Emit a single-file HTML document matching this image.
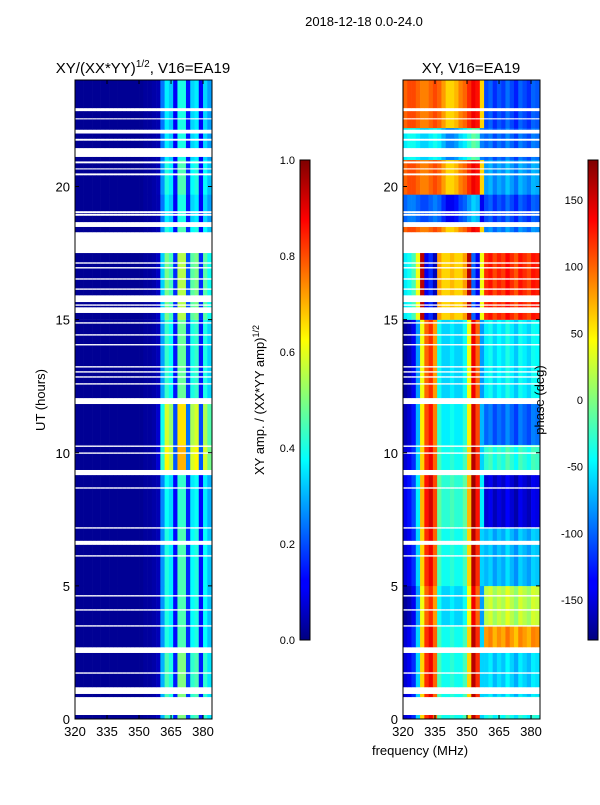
<!DOCTYPE html>
<html><head><meta charset="utf-8"><style>
body{margin:0;background:#fff;width:600px;height:800px;overflow:hidden;font-family:"Liberation Sans",sans-serif}
svg text{font-family:"Liberation Sans",sans-serif;fill:#000}
</style></head><body>
<svg id="fig" width="600" height="800" viewBox="0 0 600 800">
<rect x="0" y="0" width="600" height="800" fill="#fff"/>
<text x="364" y="26" font-size="13" text-anchor="middle">2018-12-18 0.0-24.0</text>
<text x="143" y="73" font-size="15" text-anchor="middle">XY/(XX*YY)<tspan font-size="10" dy="-6">1/2</tspan><tspan dy="6">, V16=EA19</tspan></text>
<text x="471" y="73" font-size="15" text-anchor="middle">XY, V16=EA19</text>
<g id="ampPanel"></g>
<g id="phPanel"></g>
<g id="axes"></g>
<defs>
<linearGradient id="jet" x1="0" y1="1" x2="0" y2="0">
<stop offset="0" stop-color="#00007f"/><stop offset="0.11" stop-color="#0000ff"/><stop offset="0.125" stop-color="#0000ff"/>
<stop offset="0.34" stop-color="#00dbff"/><stop offset="0.375" stop-color="#00ffff"/><stop offset="0.5" stop-color="#7fff7f"/>
<stop offset="0.625" stop-color="#ffff00"/><stop offset="0.66" stop-color="#ffdb00"/><stop offset="0.875" stop-color="#ff0000"/><stop offset="1" stop-color="#7f0000"/>
</linearGradient>
</defs>
<rect x="300" y="160" width="10" height="480" fill="url(#jet)" stroke="#000" stroke-width="1"/>
<rect x="588" y="160" width="10" height="480" fill="url(#jet)" stroke="#000" stroke-width="1"/>
<text transform="translate(264,400) rotate(-90)" font-size="13" text-anchor="middle">XY amp. / (XX*YY amp)<tspan font-size="9" dy="-5">1/2</tspan></text>
<text transform="translate(544,400) rotate(-90)" font-size="13" text-anchor="middle">phase (deg)</text>
<text transform="translate(45,400) rotate(-90)" font-size="13" text-anchor="middle">UT (hours)</text>
<text x="420" y="755" font-size="13" text-anchor="middle">frequency (MHz)</text>
</svg>
<script>
// ---- data ----
const freqEdges = [320,322,324,326,328,330,332,334,336,338,340,342,344,346,348,350,352,354,356,358,360,362,364,366,368,370,372,374,376,378,380,382,384];
const ampProfile = [0.02,0.02,0.02,0.02,0.02,0.02,0.02,0.02,0.02,0.02,0.02,0.02,0.02,0.02,0.02,0.02,0.03,0.03,0.04,0.06,0.3,0.45,0.4,0.15,0.5,0.5,0.18,0.42,0.45,0.15,0.42,0.35];
const phaseLowA = [-150,-140,-120,-60,60,120,140,100,-20,-40,-40,-30,-40,-40,-20,60,160,120,-60];
const phaseLowB = [100,110,110,100,90,90,100,110,100,80,60,60,70,90,100,120,140,130,60];
const phaseHiProf = [0,10,-10,5,-5,15,0,-15,10,0,-10,10,5];
const segStart = [0,0.85,2.5,3.5,5.0,7.2,9.3,10.3,12.0,15.0,17.5,18.5,19.7,21.0,22.2];
const segEnd   = [0.85,2.5,3.5,5.0,7.2,9.3,10.3,12.0,15.0,17.5,18.5,19.7,21.0,22.2,24.0];
const segAmp   = [1.0,1.0,0.9,0.9,0.9,0.85,1.4,1.3,0.95,1.1,0.9,0.8,0.9,0.8,0.8];
const segLowMode = [0,0,0,0,0,0,0,0,0,0,1,1,1,1,1];
const segLowShift = [0,0,0,-20,0,10,0,-10,-20,100,0,-200,0,-150,0];
const segHiPhase = [-40,-60,80,20,-70,-150,-30,-100,-50,120,-90,-110,-80,-100,-110];
const gaps = [[0.15,0.83],[0.94,1.2],[1.7,1.76],[2.48,2.7],[3.47,3.53],[4.07,4.13],[4.6,4.66],[6.1,6.16],[6.54,6.7],[7.15,7.21],[8.65,8.71],[9.16,9.36],[9.96,10.02],[10.22,10.28],[11.83,12.06],[12.56,12.62],[12.82,12.88],[13.01,13.07],[13.2,13.26],[14.03,14.09],[14.4,14.46],[14.85,14.91],[15.25,15.47],[15.52,15.58],[15.66,15.92],[16.12,16.18],[16.5,16.56],[16.92,16.98],[17.1,17.16],[17.5,18.29],[18.48,18.67],[18.9,18.98],[19.0,19.08],[20.42,20.5],[20.64,20.69],[20.87,20.95],[21.11,21.45],[21.72,21.8],[21.99,22.14],[22.52,22.57],[22.83,22.95]];
const xTicks = [320,335,350,365,380];
const yTicks = [0,5,10,15,20];
const ampCbTicks = [0.0,0.2,0.4,0.6,0.8,1.0];
const phCbTicks = [-150,-100,-50,0,50,100,150];

// ---- scales ----
const NS='http://www.w3.org/2000/svg';
const PT=80, PB=719;
function ys(h){return PB-(h/24)*(PB-PT);}
function xsL(f){return 75+(f-320)/(384.2-320)*137;}
function xsR(f){return 403+(f-320)/(384.2-320)*137;}
function jet(v){v=Math.max(0,Math.min(1,v));const c=t=>Math.round(255*Math.max(0,Math.min(1,1.5-Math.abs(4*v-t))));return `rgb(${c(3)},${c(2)},${c(1)})`;}
function wrap(p){while(p>180)p-=360;while(p<-180)p+=360;return p;}
function mk(tag,attrs,parent){const e=document.createElementNS(NS,tag);for(const k in attrs)e.setAttribute(k,attrs[k]);parent.appendChild(e);return e;}

const intervals=[];
for(let s=0;s<segStart.length;s++){
  let pieces=[[segStart[s],segEnd[s]]];
  gaps.forEach(g=>{const np=[];pieces.forEach(p=>{if(g[1]<=p[0]||g[0]>=p[1]){np.push(p);}else{if(g[0]>p[0])np.push([p[0],g[0]]);if(g[1]<p[1])np.push([g[1],p[1]]);}});pieces=np;});
  pieces.forEach(p=>intervals.push([p[0],p[1],s]));
}
const ampG=document.getElementById('ampPanel'), phG=document.getElementById('phPanel');
const nLow=phaseLowA.length;
intervals.forEach(iv=>{
  const s=iv[2];const y0=ys(iv[1]),y1=ys(iv[0]);
  for(let c=0;c<freqEdges.length-1;c++){
    const f0=freqEdges[c],f1=freqEdges[c+1];
    let a=ampProfile[c]*(c>=nLow?segAmp[s]:1);
    const r=mk('rect',{x:xsL(f0).toFixed(2),y:y0.toFixed(2),width:(xsL(f1)-xsL(f0)+0.3).toFixed(2),height:(y1-y0+0.2).toFixed(2),fill:jet(a)},ampG);
    
    
    let p;
    if(c<nLow){p=(segLowMode[s]?phaseLowB[c]:phaseLowA[c])+segLowShift[s];}
    else{p=segHiPhase[s]+phaseHiProf[c-nLow];}
    const q=mk('rect',{x:xsR(f0).toFixed(2),y:y0.toFixed(2),width:(xsR(f1)-xsR(f0)+0.3).toFixed(2),height:(y1-y0+0.2).toFixed(2),fill:jet((wrap(p)+180)/360)},phG);
    
    
  }
});

const ax=document.getElementById('axes');
[[75,xsL],[403,xsR]].forEach(([x0,xs],pi)=>{
  const fr=mk('rect',{x:x0,y:PT,width:137,height:PB-PT,fill:'none',stroke:'#000','stroke-width':1},ax);
  
  
  xTicks.forEach(t=>{
    const x=xs(t);
    mk('line',{x1:x,x2:x,y1:PB,y2:PB-4,stroke:'#000'},ax);
    mk('line',{x1:x,x2:x,y1:PT,y2:PT+4,stroke:'#000'},ax);
    const tx=mk('text',{x:x,y:PB+17,'font-size':13,'text-anchor':'middle'},ax);
    tx.textContent=t;
    
    
  });
  yTicks.forEach(t=>{
    const y=ys(t);
    mk('line',{x1:x0,x2:x0+4,y1:y,y2:y,stroke:'#000'},ax);
    mk('line',{x1:x0+137,x2:x0+133,y1:y,y2:y,stroke:'#000'},ax);
    const tx=mk('text',{x:x0-5,y:y+5,'font-size':13,'text-anchor':'end'},ax);
    tx.textContent=t;
    
    
  });
});
ampCbTicks.forEach(t=>{
  const y=640-t*480;
  mk('line',{x1:300,x2:310,y1:y,y2:y,stroke:'#000','stroke-width':0.8},ax);
  const tx=mk('text',{x:295,y:y+4,'font-size':11,'text-anchor':'end'},ax);
  tx.textContent=t.toFixed(1);
  
  
});
phCbTicks.forEach(t=>{
  const y=400-t*(480/360);
  mk('line',{x1:588,x2:598,y1:y,y2:y,stroke:'#000','stroke-width':0.8},ax);
  const tx=mk('text',{x:583,y:y+4,'font-size':11,'text-anchor':'end'},ax);
  tx.textContent=t;
  
  
});
</script>
</body></html>
